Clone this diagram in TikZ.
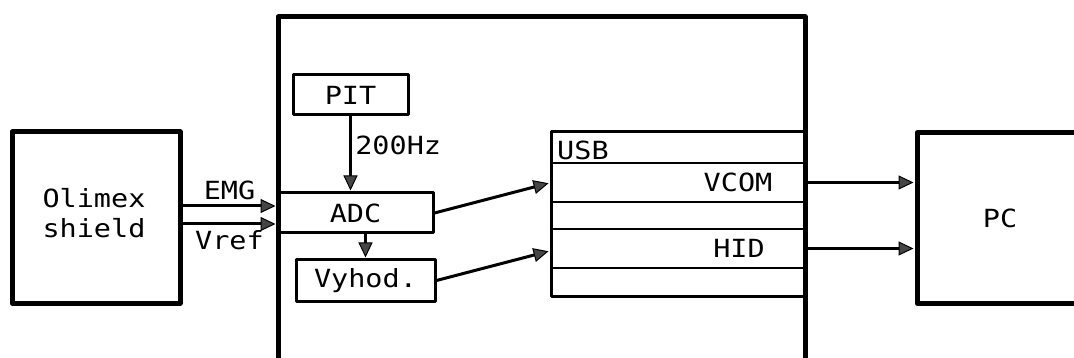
\documentclass[tikz,border=0pt]{standalone}
\usepackage{fontspec}
\usetikzlibrary{positioning,calc,arrows.meta}
\newfontfamily\diafont[FakeStretch=1.14]{DejaVu Sans Mono}
\definecolor{tipcol}{HTML}{454545}

\begin{document}
\begin{tikzpicture}[x=1pt,y=-1pt,
  blk/.style={draw,line width=3pt,line join=round,inner sep=0pt,font=\diafont\fontsize{25}{30}\selectfont},
  bigblk/.style={blk,line width=5pt},
  sig/.style={line width=3pt,shorten >=1pt,-{Triangle[length=15pt,width=14pt,fill=tipcol,line width=1pt]}},
  lbl/.style={font=\diafont\fontsize{25}{30}\selectfont}]
  \useasboundingbox (0,0) rectangle (1074,358);
  \clip (0,0) rectangle (1074,358);
  % blocks
  \node[bigblk,minimum width=527pt,minimum height=363pt] (mcu) at (541.5,198.5) {};
  \node[bigblk,minimum width=168pt,minimum height=171pt] (olimex) at (96,217.5) {};
  \node[lbl,align=center,inner sep=0pt] (olimextxt) at (94,213.5) {Olimex\\shield};
  \node[bigblk,minimum width=166pt,minimum height=170pt] (pc) at (1000,218) {PC};
  \node[blk,minimum width=115pt,minimum height=40pt] (pit) at (350.5,95) {PIT};
  \node[blk,minimum width=155pt,minimum height=40pt] (adc) at (355.5,213) {ADC};
  \node[blk,minimum width=139pt,minimum height=41pt] (vyhod) at (365.5,280.5) {Vyhod.};
  \node[blk,minimum width=254pt,minimum height=164pt] (usb) at (678,214) {};
  % USB endpoints
  \foreach \y in {163,202,229,268}
    \draw[line width=1.5pt] (usb.west |- 0,\y) -- (usb.east |- 0,\y);
  \node[lbl,anchor=west,inner sep=0pt] (usbtxt) at (557,150) {USB};
  \node[lbl] (vcom) at (738,182.5) {VCOM};
  \node[lbl] (hid) at (739,248.5) {HID};
  % signals
  \draw[sig] ([yshift=11.5pt]olimex.east) -- ([yshift=11.5pt]olimex.east -| adc.west)
    node[lbl,midway,above=1pt] (emg) {EMG};
  \draw[sig] ([yshift=-6.5pt]olimex.east) -- ([yshift=-6.5pt]olimex.east -| adc.west)
    node[lbl,midway,below=2pt] (vref) {Vref};
  \draw[sig] (pit.south) -- (pit.south |- adc.north)
    node[lbl,pos=0.385,right] (freq) {200Hz};
  \draw[sig] (vyhod.north |- adc.south) -- (vyhod.north);
  \draw[sig] (adc.east) -- ([yshift=31pt]usb.west);
  \draw[sig] (vyhod.east) -- ([yshift=-37pt]usb.west);
  \draw[sig] ([yshift=31.5pt]usb.east) -- ([yshift=31.5pt]usb.east -| pc.west);
  \draw[sig] ([yshift=-34.5pt]usb.east) -- ([yshift=-34.5pt]usb.east -| pc.west);
\end{tikzpicture}
\end{document}
